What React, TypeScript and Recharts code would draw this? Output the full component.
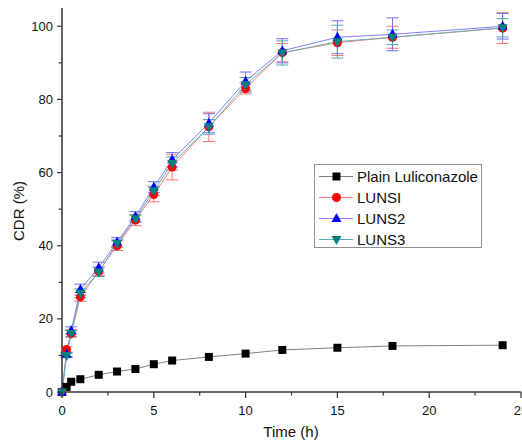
import {
  LineChart,
  Line,
  XAxis,
  YAxis,
  ErrorBar,
  Legend,
  Label,
} from "recharts";

const time = [0, 0.25, 0.5, 1, 2, 3, 4, 5, 6, 8, 10, 12, 15, 18, 24];
const plain = [0, 1.4, 2.8, 3.5, 4.7, 5.6, 6.3, 7.6, 8.6, 9.6, 10.5, 11.5, 12.1, 12.6, 12.8];
const luns1 = [0, 11.6, 16.0, 26.0, 33.0, 40.0, 47.0, 54.0, 61.5, 72.5, 83.0, 92.8, 95.5, 97.0, 99.5];
const luns2 = [0, 10.3, 16.8, 28.0, 34.0, 41.0, 48.0, 56.0, 63.5, 73.5, 85.0, 93.3, 97.0, 97.8, 100.0];
const luns3 = [0, 10.0, 16.0, 27.0, 32.8, 40.6, 47.4, 55.0, 62.5, 72.5, 84.0, 92.7, 95.8, 97.0, 99.6];
const err1 = [0, 0.8, 1.0, 1.2, 1.2, 1.3, 1.5, 2.0, 3.5, 4.0, 1.5, 2.5, 3.5, 3.0, 4.2];
const err2 = [0, 0.6, 1.0, 1.5, 1.5, 1.2, 1.3, 1.5, 2.0, 2.6, 2.5, 3.3, 4.5, 4.5, 3.5];
const err3 = [0, 0.6, 0.8, 1.2, 1.2, 1.0, 1.0, 1.3, 1.8, 2.0, 2.0, 3.3, 4.5, 2.0, 2.5];

const xTicks = [0, 2.5, 5, 7.5, 10, 12.5, 15, 17.5, 20, 22.5, 25];
const yTicks = [0, 10, 20, 30, 40, 50, 60, 70, 80, 90, 100];

const data = time.map((t, i) => ({
  t,
  plain: plain[i],
  luns1: luns1[i],
  luns2: luns2[i],
  luns3: luns3[i],
  e1: err1[i],
  e2: err2[i],
  e3: err3[i],
}));

const FONT = "'Liberation Sans', Arial, sans-serif";

type Shape = "square" | "circle" | "up" | "down";

const series: { key: string; name: string; line: string; fill: string; shape: Shape; err?: string; ec?: string }[] = [
  { key: "plain", name: "Plain Luliconazole", line: "#808080", fill: "#000000", shape: "square" },
  { key: "luns1", name: "LUNSI", line: "#ff8080", fill: "#ff0000", shape: "circle", err: "e1", ec: "#ff7070" },
  { key: "luns2", name: "LUNS2", line: "#8080ff", fill: "#0000ff", shape: "up", err: "e2", ec: "#7070ff" },
  { key: "luns3", name: "LUNS3", line: "#60b0b0", fill: "#008080", shape: "down", err: "e3", ec: "#50a8a8" },
];

const Marker = ({ cx, cy, shape, fill }: { cx: number; cy: number; shape: Shape; fill: string }) => {
  if (shape === "square") return <rect x={cx - 4} y={cy - 4} width={8} height={8} fill={fill} />;
  if (shape === "circle") return <circle cx={cx} cy={cy} r={4.5} fill={fill} />;
  if (shape === "up")
    return <polygon points={`${cx},${cy - 5.5} ${cx + 5},${cy + 3.5} ${cx - 5},${cy + 3.5}`} fill={fill} />;
  return <polygon points={`${cx},${cy + 5.5} ${cx + 5},${cy - 3.5} ${cx - 5},${cy - 3.5}`} fill={fill} />;
};

const XTick = (props: any) => {
  const { x, y, payload } = props;
  const axisY = y - 8;
  const major = payload.value % 5 === 0;
  return (
    <g>
      <line x1={x} x2={x} y1={axisY} y2={axisY + (major ? 6 : 3.5)} stroke="#333" strokeWidth={1.2} />
      {major && (
        <text x={x} y={axisY + 23} textAnchor="middle" fontSize={13} fontFamily={FONT} fill="#111">
          {payload.value}
        </text>
      )}
    </g>
  );
};

const YTick = (props: any) => {
  const { x, y, payload } = props;
  const axisX = x + 8;
  const major = payload.value % 20 === 0;
  return (
    <g>
      <line x1={axisX - (major ? 5 : 3.5)} x2={axisX} y1={y} y2={y} stroke="#333" strokeWidth={1.2} />
      {major && (
        <text x={axisX - 9} y={y + 4.5} textAnchor="end" fontSize={13} fontFamily={FONT} fill="#111">
          {payload.value}
        </text>
      )}
    </g>
  );
};

const LegendBox = () => (
  <div
    style={{
      width: 168,
      height: 84,
      boxSizing: "border-box",
      border: "1px solid #909090",
      paddingTop: 1,
      background: "#fff",
    }}
  >
    {series.map((s) => (
      <div key={s.key} style={{ display: "flex", alignItems: "center", height: 21 }}>
        <svg width={42} height={21} style={{ display: "block" }}>
          <line x1={4} x2={38} y1={10.5} y2={10.5} stroke={s.line} strokeWidth={1.2} />
          <Marker cx={21.5} cy={10.5} shape={s.shape} fill={s.fill} />
        </svg>
        <span style={{ fontFamily: FONT, fontSize: 15, color: "#111", lineHeight: "21px" }}>{s.name}</span>
      </div>
    ))}
  </div>
);

export default function App() {
  return (
    <div
      style={{
        position: "absolute",
        left: 0,
        top: 0,
        width: 522,
        height: 445,
        overflow: "hidden",
        background: "#fff",
      }}
    >
      <LineChart width={522} height={445} data={data} margin={{ top: 8, right: 1, bottom: 0, left: 0 }}>
        <XAxis
          type="number"
          dataKey="t"
          domain={[0, 25]}
          ticks={xTicks}
          interval={0}
          height={53}
          tickLine={false}
          tickSize={6}
          tickMargin={2}
          tick={<XTick />}
          axisLine={{ stroke: "#333", strokeWidth: 1.5 }}
        >
          <Label
            content={() => (
              <text x={291} y={437} textAnchor="middle" fontSize={15} fontFamily={FONT} fill="#111">
                Time (h)
              </text>
            )}
          />
        </XAxis>
        <YAxis
          type="number"
          domain={[0, 105]}
          ticks={yTicks}
          interval={0}
          width={62}
          tickLine={false}
          tickSize={6}
          tickMargin={2}
          tick={<YTick />}
          axisLine={{ stroke: "#333", strokeWidth: 1.5 }}
        >
          <Label
            content={() => (
              <text
                x={24}
                y={211}
                transform="rotate(-90 24 211)"
                textAnchor="middle"
                fontSize={15}
                fontFamily={FONT}
                fill="#111"
              >
                CDR (%)
              </text>
            )}
          />
        </YAxis>
        <Legend
          layout="vertical"
          align="center"
          verticalAlign="middle"
          content={() => <LegendBox />}
          wrapperStyle={{ position: "absolute", left: 314, top: 164, width: 168, height: 84 }}
        />
        {series.map((s) => (
          <Line
            key={s.key}
            type="linear"
            dataKey={s.key}
            name={s.name}
            stroke={s.line}
            strokeWidth={1}
            isAnimationActive={false}
            dot={(p: any) => <Marker key={`${s.key}-${p.index}`} cx={p.cx} cy={p.cy} shape={s.shape} fill={s.fill} />}
            activeDot={false}
          >
            {s.err && <ErrorBar dataKey={s.err} direction="y" width={6} stroke={s.ec} strokeWidth={1} />}
          </Line>
        ))}
      </LineChart>
    </div>
  );
}
